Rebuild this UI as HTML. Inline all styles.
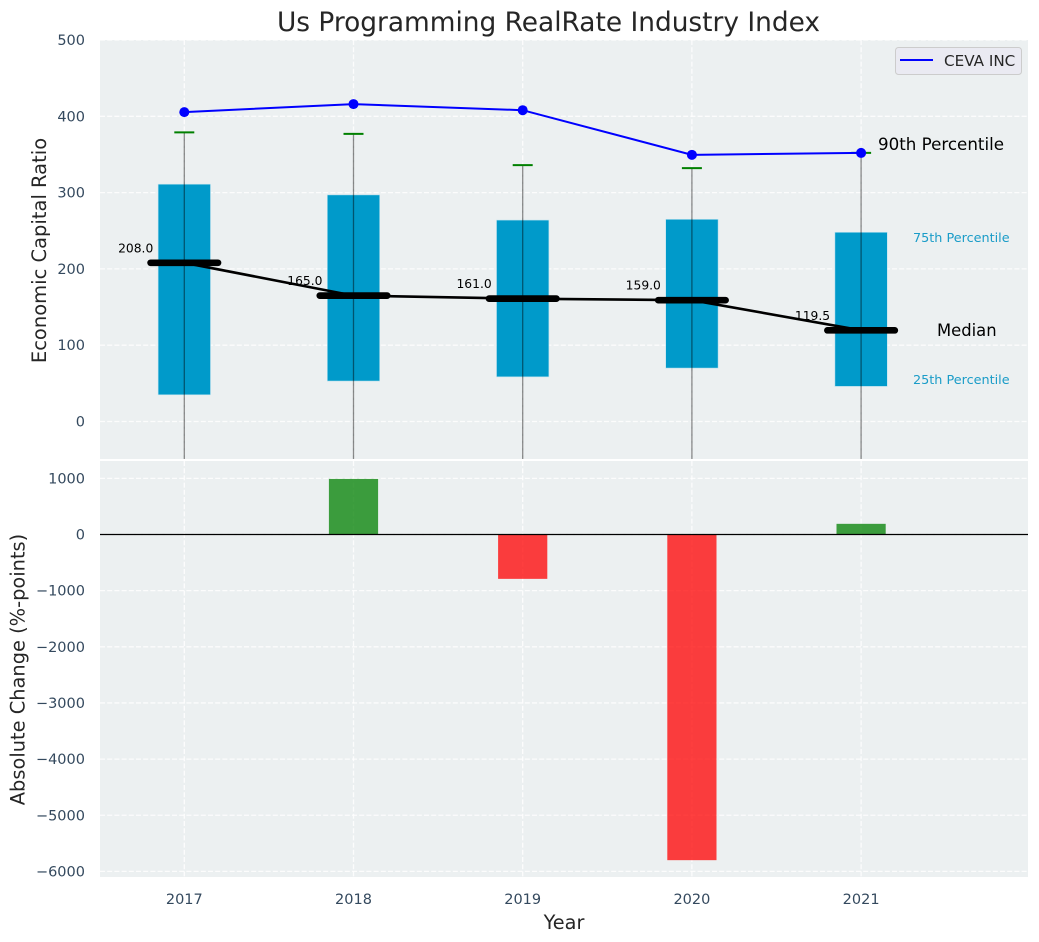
<!DOCTYPE html>
<html>
<head>
<meta charset="utf-8">
<title>Us Programming RealRate Industry Index</title>
<style>
html,body{margin:0;padding:0;background:#fff;}
svg{display:block;font-family:"DejaVu Sans","Liberation Sans",sans-serif;}
</style>
</head>
<body>
<svg id="chart" width="1039" height="942" viewBox="0 0 1039 942" xmlns="http://www.w3.org/2000/svg">
<rect x="100" y="40" width="928" height="419" fill="#ecf0f1"/>
<rect x="100" y="461" width="928" height="416" fill="#ecf0f1"/>
<g id="grid"></g>
<g id="top-marks"></g>
<g id="bottom-marks"></g>
<g id="ticks"></g>
<text x="548.5" y="31" text-anchor="middle" font-size="26.4" fill="#262626">Us Programming RealRate Industry Index</text>
<text transform="translate(46,250.5) rotate(-90)" text-anchor="middle" font-size="19.5" fill="#262626">Economic Capital Ratio</text>
<text transform="translate(24.5,669.5) rotate(-90)" text-anchor="middle" font-size="19.4" fill="#262626">Absolute Change (%-points)</text>
<text x="564" y="929" text-anchor="middle" font-size="19.3" fill="#262626">Year</text>
<text x="878" y="150" font-size="16.7" fill="#000">90th Percentile</text>
<text x="913" y="242" font-size="12.8" fill="#1a9cc8">75th Percentile</text>
<text x="937" y="336" font-size="16.4" fill="#000">Median</text>
<text x="913" y="384" font-size="12.8" fill="#1a9cc8">25th Percentile</text>
<g>
<rect x="895.5" y="47.5" width="126" height="27" rx="3" fill="#eaeaf2" stroke="#cccccc"/>
<line x1="900" x2="933" y1="60" y2="60" stroke="#0000ff" stroke-width="2"/>
<text x="944" y="66" font-size="15.2" fill="#262626">CEVA INC</text>
</g>
</svg>
<script>
const years = [2017, 2018, 2019, 2020, 2021];
const q75 = [311, 297, 264, 265, 248];
const q25 = [35, 53, 58.5, 70, 46];
const p90 = [379, 377, 336, 332, 352];
const p10 = [-80, -80, -80, -80, -80];
const medians = [208, 165, 161, 159, 119.5];
const ceva = [405.5, 416, 408, 349.5, 352];
const changes = [0, 990, -790, -5800, 190];
const topTicks = [0, 100, 200, 300, 400, 500];
const bottomTicks = [-6000, -5000, -4000, -3000, -2000, -1000, 0, 1000];

const NS = 'http://www.w3.org/2000/svg';
const X = v => 184.3 + (v - 2017) * 169.2;
const YT = v => 421.5 - v * 0.763;
const YB = v => 534.5 - v * 0.05615;
const clipT = v => Math.min(459, Math.max(40, v));

function mk(parent, tag, attrs, text) {
  const el = document.createElementNS(NS, tag);
  for (const k in attrs) el.setAttribute(k, attrs[k]);
  if (text !== undefined) el.textContent = text;
  parent.appendChild(el);
  return el;
}
function named(el, name) {
  
  
  return el;
}
const grid = document.getElementById('grid');
const top_ = document.getElementById('top-marks');
const bot = document.getElementById('bottom-marks');
const ticks = document.getElementById('ticks');
const gridStyle = {stroke: '#ffffff', 'stroke-width': 1.3, 'stroke-dasharray': '5 2.2', opacity: 0.85};

years.forEach(y => {
  named(mk(grid, 'line', {x1: X(y), x2: X(y), y1: 40, y2: 459, ...gridStyle}), 'top-x-gridline-' + y);
  named(mk(grid, 'line', {x1: X(y), x2: X(y), y1: 461, y2: 877, ...gridStyle}), 'bottom-x-gridline-' + y);
  named(mk(ticks, 'text', {x: X(y), y: 904, 'text-anchor': 'middle', 'font-size': 14.5, fill: '#34495e'}, String(y)), 'x-tick-' + y);
});
topTicks.forEach(t => {
  named(mk(grid, 'line', {x1: 100, x2: 1028, y1: YT(t), y2: YT(t), ...gridStyle}), 'top-y-gridline-' + t);
  named(mk(ticks, 'text', {x: 85, y: YT(t) + 5, 'text-anchor': 'end', 'font-size': 14.5, fill: '#34495e'}, String(t)), 'top-y-tick-' + t);
});
bottomTicks.forEach(t => {
  named(mk(grid, 'line', {x1: 100, x2: 1028, y1: YB(t), y2: YB(t), ...gridStyle}), 'bottom-y-gridline-' + t);
  named(mk(ticks, 'text', {x: 85, y: YB(t) + 5, 'text-anchor': 'end', 'font-size': 14.5, fill: '#34495e'}, String(t).replace('-', '\u2212')), 'bottom-y-tick-' + t);
});

years.forEach((y, i) => {
  const cx = X(y);
  named(mk(top_, 'rect', {x: cx - 26.2, y: YT(q75[i]), width: 52.4, height: YT(q25[i]) - YT(q75[i]), fill: '#009aca', stroke: '#bfe3ef', 'stroke-width': 0.6}), 'box-' + y);
  named(mk(top_, 'line', {x1: cx, x2: cx, y1: YT(p90[i]), y2: clipT(YT(p10[i])), stroke: '#000', 'stroke-opacity': 0.45, 'stroke-width': 1.3}), 'whisker-' + y);
  named(mk(top_, 'line', {x1: cx - 10, x2: cx + 10, y1: YT(p90[i]), y2: YT(p90[i]), stroke: '#008000', 'stroke-width': 2}), 'cap-' + y);
});
named(mk(top_, 'polyline', {points: years.map((y, i) => X(y) + ',' + YT(medians[i])).join(' '), fill: 'none', stroke: '#000', 'stroke-width': 2.6}), 'median-line');
years.forEach((y, i) => {
  const cx = X(y);
  named(mk(top_, 'line', {x1: cx - 33.7, x2: cx + 33.7, y1: YT(medians[i]), y2: YT(medians[i]), stroke: '#000', 'stroke-width': 6.7, 'stroke-linecap': 'round'}), 'median-bar-' + y);
  named(mk(top_, 'text', {x: cx - 31, y: YT(medians[i]) - 10.5, 'text-anchor': 'end', 'font-size': 12.3, fill: '#000'}, medians[i].toFixed(1)), 'median-value-' + y);
});
named(mk(top_, 'polyline', {points: years.map((y, i) => X(y) + ',' + YT(ceva[i])).join(' '), fill: 'none', stroke: '#0000ff', 'stroke-width': 2}), 'ceva-line');
years.forEach((y, i) => {
  named(mk(top_, 'circle', {cx: X(y), cy: YT(ceva[i]), r: 5, fill: '#0000ff'}), 'ceva-point-' + y);
});

years.forEach((y, i) => {
  const v = changes[i];
  if (v === 0) return;
  const y1 = YB(Math.max(v, 0)), y2 = YB(Math.min(v, 0));
  named(mk(bot, 'rect', {x: X(y) - 24.6, y: y1, width: 49.2, height: y2 - y1, fill: v > 0 ? '#008000' : '#ff0000', 'fill-opacity': 0.75}), 'change-bar-' + y);
});
named(mk(bot, 'line', {x1: 100, x2: 1028, y1: YB(0), y2: YB(0), stroke: '#000', 'stroke-width': 1.2}), 'zero-line');
</script>
</body>
</html>
